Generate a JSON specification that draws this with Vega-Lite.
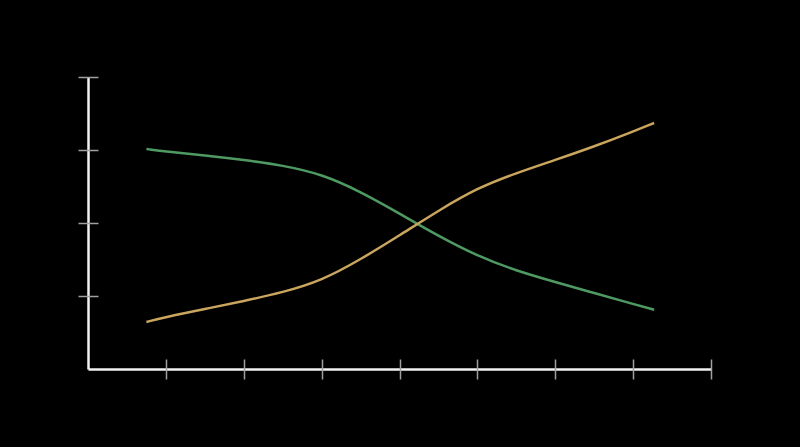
{
  "$schema": "https://vega.github.io/schema/vega-lite/v6.json",
  "width": 623,
  "height": 292,
  "autosize": {"type": "none"},
  "padding": {"left": 88, "top": 77, "right": 89, "bottom": 78},
  "background": "#000000",
  "config": {"view": {"stroke": null}},
  "data": {"values": [
    {"x": 0.75, "y": 3.014, "s": "A"},
    {"x": 1, "y": 2.981, "s": "A"},
    {"x": 1.5, "y": 2.927, "s": "A"},
    {"x": 2, "y": 2.865, "s": "A"},
    {"x": 2.5, "y": 2.79, "s": "A"},
    {"x": 3, "y": 2.67, "s": "A"},
    {"x": 3.5, "y": 2.43, "s": "A"},
    {"x": 4, "y": 2.13, "s": "A"},
    {"x": 4.5, "y": 1.822, "s": "A"},
    {"x": 5, "y": 1.548, "s": "A"},
    {"x": 5.5, "y": 1.345, "s": "A"},
    {"x": 6, "y": 1.192, "s": "A"},
    {"x": 6.5, "y": 1.041, "s": "A"},
    {"x": 7, "y": 0.89, "s": "A"},
    {"x": 7.27, "y": 0.812, "s": "A"},
    {"x": 0.75, "y": 0.644, "s": "B"},
    {"x": 1, "y": 0.712, "s": "B"},
    {"x": 1.5, "y": 0.822, "s": "B"},
    {"x": 2, "y": 0.93, "s": "B"},
    {"x": 2.5, "y": 1.05, "s": "B"},
    {"x": 3, "y": 1.21, "s": "B"},
    {"x": 3.5, "y": 1.5, "s": "B"},
    {"x": 4, "y": 1.83, "s": "B"},
    {"x": 4.5, "y": 2.17, "s": "B"},
    {"x": 5, "y": 2.48, "s": "B"},
    {"x": 5.5, "y": 2.685, "s": "B"},
    {"x": 6, "y": 2.863, "s": "B"},
    {"x": 6.5, "y": 3.048, "s": "B"},
    {"x": 7, "y": 3.253, "s": "B"},
    {"x": 7.27, "y": 3.37, "s": "B"}
  ]},
  "layer": [
    {
      "mark": {"type": "line", "interpolate": "basis", "strokeWidth": 2.5, "clip": false},
      "encoding": {
        "x": {"field": "x", "type": "quantitative", "scale": {"domain": [0, 8], "nice": false, "zero": false},
              "axis": {"orient": "bottom", "title": null, "labels": false, "ticks": false, "grid": false, "domain": true, "domainColor": "#f2f2f2", "domainWidth": 2.5}},
        "y": {"field": "y", "type": "quantitative", "scale": {"domain": [0, 4], "nice": false, "zero": false},
              "axis": {"orient": "left", "title": null, "labels": false, "ticks": false, "grid": false, "domain": true, "domainColor": "#f2f2f2", "domainWidth": 2.5}},
        "color": {"field": "s", "type": "nominal", "scale": {"domain": ["A", "B"], "range": ["#4e9a62", "#c9a55e"]}, "legend": null}
      }
    },
    {
      "mark": {"type": "line", "interpolate": "basis", "strokeWidth": 2.5, "opacity": 0},
      "encoding": {
        "x": {"field": "x", "type": "quantitative",
              "axis": {"orient": "bottom", "offset": -10, "title": null, "labels": false, "ticks": true, "tickSize": 20, "tickColor": "#a0a0a0", "tickWidth": 1.5, "grid": false, "domain": false, "values": [1, 2, 3, 4, 5, 6, 7, 8]}},
        "y": {"field": "y", "type": "quantitative",
              "axis": {"orient": "left", "offset": -10, "title": null, "labels": false, "ticks": true, "tickSize": 20, "tickColor": "#a0a0a0", "tickWidth": 1.5, "grid": false, "domain": false, "values": [1, 2, 3, 4]}},
        "detail": {"field": "s", "type": "nominal"}
      }
    }
  ],
  "resolve": {"axis": {"x": "independent", "y": "independent"}}
}
